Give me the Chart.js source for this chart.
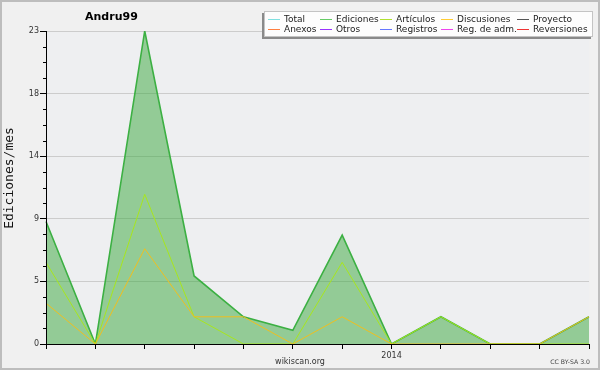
<!DOCTYPE html>
<html><head><meta charset="utf-8">
<script src="https://cdn.jsdelivr.net/npm/chart.js@4.4.1/dist/chart.umd.min.js"></script>
<style>html,body{margin:0;padding:0;background:#f0f0f0;}canvas{display:block;}</style>
</head><body>
<canvas id="c" width="600" height="370" style="width:600px;height:370px"></canvas>
<script>
const MONTHS = ['2013-06','2013-07','2013-08','2013-09','2013-10','2013-11','2013-12','2014-01','2014-02','2014-03','2014-04','2014-05'];
const EDICIONES = [9,0,23,5,2,1,8,0,2,0,0,2];
const ARTICULOS = [6,0,11,2,0,0,6,0,2,0,0,0];
const DISCUSIONES = [3,0,7,2,2,0,2,0,0,0,0,2];
const Y_TICKS = [0,4.6,9.2,13.8,18.4,23];
const Y_TICK_LABELS = ['0','5','9','14','18','23'];
const LEGEND_NAMES = [['Total','Ediciones','Artículos','Discusiones','Proyecto'],['Anexos','Otros','Registros','Reg. de adm.','Reversiones']];
const LEGEND_COLORS = [['#80e0e0','#66cc66','#b0e030','#ffcc33','#555555'],['#ff7f40','#9933ff','#6677ff','#ee44ee','#ee3333']];
const TITLE = 'Andru99';
const Y_TITLE = 'Ediciones/mes';
const SITE = 'wikiscan.org';
const LICENSE = 'CC BY-SA 3.0';

const FONT = '"DejaVu Sans", sans-serif';

const decor = {
  id: 'decor',
  beforeDraw(chart) {
    const ctx = chart.ctx, a = chart.chartArea;
    ctx.save();
    ctx.fillStyle = '#f0f0f0';
    ctx.fillRect(0, 0, chart.width, chart.height);
    ctx.fillStyle = '#eeeff1';
    ctx.fillRect(a.left, a.top, a.right - a.left, a.bottom - a.top);
    ctx.restore();
  },
  afterDatasetsDraw(chart) {
    const ctx = chart.ctx, a = chart.chartArea, ys = chart.scales.y;
    ctx.save();
    ctx.strokeStyle = '#000';
    ctx.lineWidth = 1;
    ctx.beginPath();
    ctx.moveTo(a.left + 0.5, a.top);
    ctx.lineTo(a.left + 0.5, a.bottom + 0.5);
    const step = (Y_TICKS[1] - Y_TICKS[0]) / 4;
    for (let k = 0; k <= 20; k++) {
      if (k % 4 === 0) continue;
      const y = Math.round(ys.getPixelForValue(k * step)) + 0.5;
      ctx.moveTo(a.left - 3, y);
      ctx.lineTo(a.left, y);
    }
    ctx.stroke();
    ctx.restore();
  },
  afterDraw(chart) {
    const ctx = chart.ctx;
    ctx.save();
    ctx.strokeStyle = '#bdbdbd';
    ctx.lineWidth = 2;
    ctx.strokeRect(1, 1, chart.width - 2, chart.height - 2);
    ctx.fillStyle = '#000';
    ctx.font = 'bold 11px ' + FONT;
    ctx.textAlign = 'left';
    ctx.textBaseline = 'middle';
    ctx.fillText(TITLE, 85, 17);
    ctx.save();
    ctx.translate(10, 178);
    ctx.rotate(-Math.PI / 2);
    ctx.font = '13px "DejaVu Sans Mono", monospace';
    ctx.textAlign = 'center';
    ctx.fillStyle = '#111';
    ctx.fillText(Y_TITLE, 0, 0);
    ctx.restore();
    ctx.font = '8px ' + FONT;
    ctx.fillStyle = '#333';
    ctx.textAlign = 'center';
    ctx.fillText(SITE, 300, 362);
    ctx.font = '6.2px ' + FONT;
    ctx.textAlign = 'right';
    ctx.fillStyle = '#444';
    ctx.fillText(LICENSE, 590, 362);
    ctx.fillStyle = '#8a8a8a';
    ctx.fillRect(262, 13, 329, 26);
    ctx.fillStyle = '#fdfdfd';
    ctx.fillRect(264, 11, 329, 26);
    ctx.strokeStyle = '#c4c4c4';
    ctx.lineWidth = 1;
    ctx.strokeRect(264.5, 11.5, 328, 25);
    const colX = [284, 336, 396, 457, 533];
    const rowY = [19.5, 29.5];
    ctx.font = '9px ' + FONT;
    ctx.textAlign = 'left';
    for (let r = 0; r < 2; r++) {
      for (let c = 0; c < 5; c++) {
        const x = colX[c], y = rowY[r];
        ctx.strokeStyle = LEGEND_COLORS[r][c];
        ctx.beginPath();
        ctx.moveTo(x - 16, y);
        ctx.lineTo(x - 4, y);
        ctx.stroke();
        ctx.fillStyle = '#222';
        ctx.fillText(LEGEND_NAMES[r][c], x, y + 0.5);
      }
    }
    ctx.restore();
  }
};

new Chart(document.getElementById('c'), {
  type: 'line',
  data: {
    labels: MONTHS,
    datasets: [
      { label: 'Discusiones', data: DISCUSIONES, borderColor: '#efbf1f', borderWidth: 1, pointRadius: 0, fill: false, order: 1 },
      { label: 'Artículos', data: ARTICULOS, borderColor: '#a8e61d', borderWidth: 1, pointRadius: 0, fill: false, order: 2 },
      { label: 'Ediciones', data: EDICIONES, borderColor: '#3cb043', borderWidth: 1.6, pointRadius: 0, fill: 'origin', backgroundColor: 'rgba(56,167,59,0.5)', order: 3 }
    ]
  },
  options: {
    responsive: false,
    animation: false,
    devicePixelRatio: 1,
    layout: { padding: { left: 0, right: 11, top: 31, bottom: 0 } },
    plugins: { legend: { display: false }, tooltip: { enabled: false }, title: { display: false } },
    elements: { line: { tension: 0 } },
    scales: {
      x: {
        offset: false,
        z: 1,
        afterFit(s) { s.height = 26; },
        grid: { drawOnChartArea: false, drawTicks: true, tickLength: 5, tickColor: '#000', offset: false },
        border: { color: '#000', width: 1 },
        ticks: {
          autoSkip: false, maxRotation: 0, padding: 2,
          color: '#333', font: { family: 'DejaVu Sans', size: 8 },
          callback: (v, i) => MONTHS[i].endsWith('-01') ? MONTHS[i].slice(0, 4) : ''
        }
      },
      y: {
        min: 0, max: 23,
        afterFit(s) { s.width = 46; },
        afterBuildTicks(s) { s.ticks = Y_TICKS.map(v => ({ value: v })); },
        grid: { color: (c) => c.index === 0 ? 'rgba(0,0,0,0)' : '#cccccc', tickColor: '#000', tickLength: 6, drawTicks: true },
        border: { color: '#000', width: 1 },
        ticks: {
          padding: 1, color: '#333', font: { family: 'DejaVu Sans', size: 8 },
          callback: (v, i) => Y_TICK_LABELS[i]
        }
      }
    }
  },
  plugins: [decor]
});
</script>
</body></html>
